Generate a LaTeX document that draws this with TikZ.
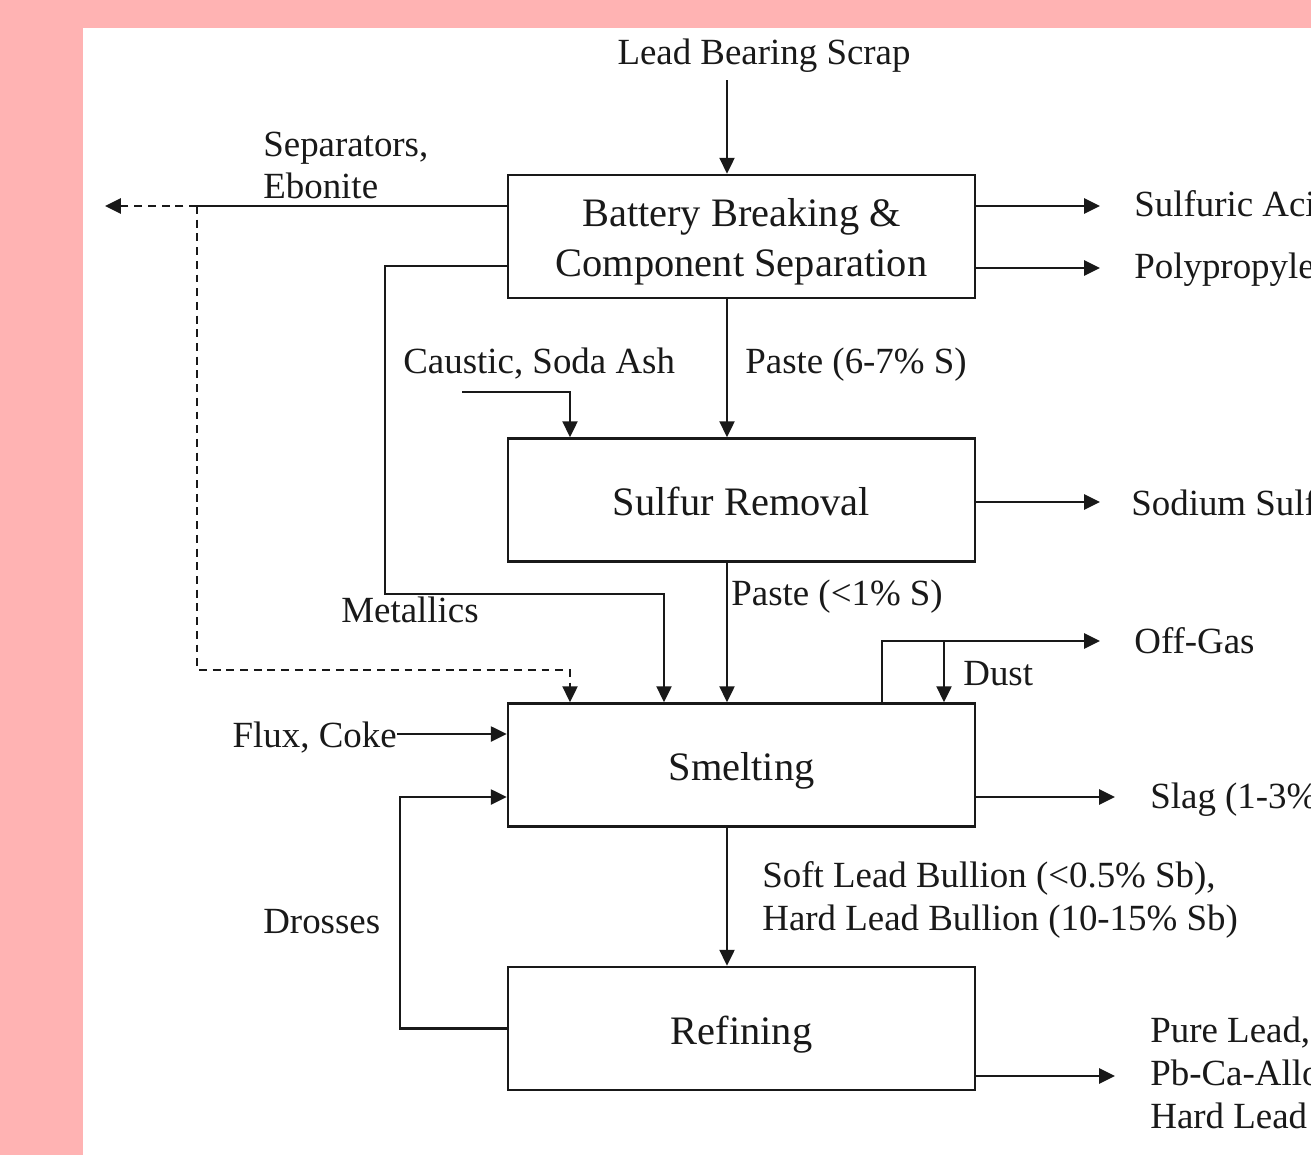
\documentclass[tikz,border=0pt]{standalone}
\usepackage{fontspec}
\setmainfont{Liberation Serif}
\usetikzlibrary{arrows.meta,calc}

\definecolor{framepink}{RGB}{255,179,179}
\definecolor{ink}{RGB}{25,25,25}

\tikzset{
  stage/.style={draw=ink, line width=1.5pt, minimum width=9.34cm, minimum height=2.46cm,
    align=center, font=\fontsize{23}{28.3}\selectfont, text=ink,
    text height=23.9pt, text depth=5.75pt},
  lbl/.style={font=\fontsize{21}{24.4}\selectfont, text=ink, inner sep=0pt, align=left},
  pipe/.style={draw=ink, line width=1.3pt},
  flow/.style={pipe, -{Triangle[length=9pt,width=8.5pt]}},
  recyc/.style={flow, dash pattern=on 4.5pt off 3.3pt},
}

\begin{document}
\begin{tikzpicture}[x=0.02cm,y=-0.02cm]
   \useasboundingbox (0,0) rectangle (1311,1155);
   \fill[framepink] (0,0) rectangle (1311,1155);
   \fill[white] (83,28) rectangle (1311,1155);

   \begin{scope}
     \clip (83,28) rectangle (1311,1155);

     % process stages
     \node[stage, text height=51.5pt] (breaking) at (741.5,236.5) {Battery Breaking \&\\Component Separation};
     \node[stage] (sulfur) at (741.5,500) {Sulfur Removal};
     \node[stage] (smelting) at (741.5,765) {Smelting};
     \node[stage] (refining) at (741.5,1028.5) {Refining};

     % main line
     \coordinate (spine) at (727,0);
     \node[lbl, anchor=base] (scrap) at (764,65) {Lead Bearing Scrap};
     \draw[flow, shorten <=4pt] (scrap.south -| spine) -- (breaking.north -| spine);
     \draw[flow] (breaking.south -| spine) -- (sulfur.north -| spine);
     \node[lbl, anchor=base west] (paste1) at (745,374) {Paste (6-7\% S)};
     \draw[flow] (sulfur.south -| spine) -- (smelting.north -| spine);
     \node[lbl, anchor=base west] (paste2) at (731,605) {Paste (<1\% S)};
     \draw[flow] (smelting.south -| spine) -- (refining.north -| spine);
     \node[lbl, anchor=base west] (bullion) at (762,930) {Soft Lead Bullion (<0.5\% Sb),\\Hard Lead Bullion (10-15\% Sb)};

     % reagents
     \node[lbl, anchor=base west] (caustic) at (403,374) {Caustic, Soda Ash};
     \coordinate (causticin) at (462,392);
     \coordinate (sodadrop) at (570,0);
     \draw[flow] (causticin) -| (sulfur.north -| sodadrop);

     \node[lbl, anchor=base east] (flux) at (397,747) {Flux, Coke};
     \coordinate (fluxrow) at (0,734);
     \draw[flow] (flux.east |- fluxrow) -- (smelting.west |- fluxrow);

     % separators and metallics
     \node[lbl, anchor=base west] (seplbl) at (263,199) {Separators,\\Ebonite};
     \coordinate (sepsplit) at (197,206);
     \coordinate (sepout) at (105,206);
     \coordinate (septurn) at (570,670);
     \draw[pipe] (breaking.west |- sepsplit) -- (sepsplit);
     \draw[recyc] (sepsplit) -- (sepout);
     \draw[recyc] (sepsplit) |- (septurn) -- (smelting.north -| septurn);

     \coordinate (metrow) at (0,266);
     \coordinate (metleft) at (385,594);
     \coordinate (metdrop) at (664,594);
     \draw[flow] (breaking.west |- metrow) -| (metleft) -| (smelting.north -| metdrop);
     \node[lbl, anchor=base west] (metlbl) at (341,622) {Metallics};

     % drosses back to smelting
     \coordinate (drossturn) at (400,797);
     \draw[flow] (refining.west) -| (drossturn) -- (smelting.west |- drossturn);
     \node[lbl, anchor=base west] (drosslbl) at (263,933) {Drosses};

     % off-gas and dust
     \coordinate (gasup) at (882,641);
     \coordinate (gasout) at (1100,641);
     \coordinate (dustdrop) at (944,641);
     \draw[flow] (smelting.north -| gasup) |- (gasout);
     \draw[flow] (dustdrop) -- (smelting.north -| dustdrop);
     \node[lbl, anchor=base west] (dustlbl) at (963,685) {Dust};
     \node[lbl, anchor=base west] (gaslbl) at (1134,653) {Off-Gas};

     % products
     \coordinate (acidout) at (1100,206);
     \coordinate (ppout) at (1100,268);
     \coordinate (sulfateout) at (1100,502);
     \coordinate (slagout) at (1115,797);
     \coordinate (leadout) at (1115,1076);
     \draw[flow] (breaking.east |- acidout) -- (acidout);
     \draw[flow] (breaking.east |- ppout) -- (ppout);
     \draw[flow] (sulfur.east |- sulfateout) -- (sulfateout);
     \draw[flow] (smelting.east |- slagout) -- (slagout);
     \draw[flow] (refining.east |- leadout) -- (leadout);
     \node[lbl, anchor=base west] (acidlbl) at (1134,217) {Sulfuric Acid};
     \node[lbl, anchor=base west] (pplbl) at (1134,279) {Polypropylene};
     \node[lbl, anchor=base west] (sulfatelbl) at (1131,515) {Sodium Sulfate};
     \node[lbl, anchor=base west] (slaglbl) at (1150,808) {Slag (1-3\% Pb)};
     \node[lbl, anchor=base west] (leadlbl) at (1150,1128) {Pure Lead,\\Pb-Ca-Alloys\\Hard Lead};
   \end{scope}
\end{tikzpicture}
\end{document}
